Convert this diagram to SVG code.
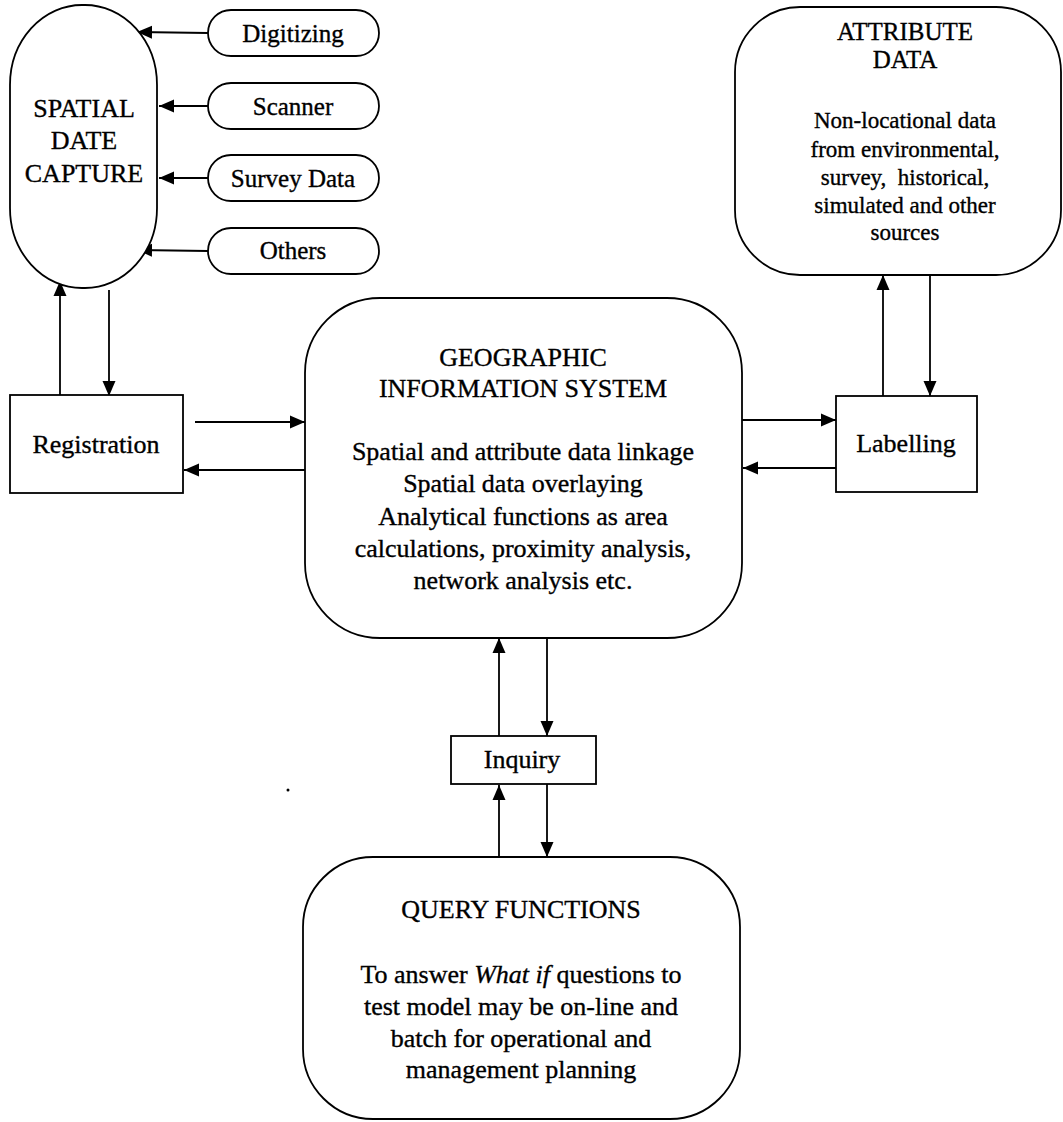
<svg xmlns="http://www.w3.org/2000/svg" width="1063" height="1122" viewBox="0 0 1063 1122">
  <style>
    .box { fill: #fff; stroke: #000; stroke-width: 1.8; }
    .wire { fill: none; stroke: #000; stroke-width: 1.8; marker-end: url(#head); }
    text { font-family: "Liberation Serif", "Times New Roman", serif; fill: #000; stroke: #000; stroke-width: 0.35; text-anchor: middle; }
    .t26 { font-size: 26px; }
    .t25 { font-size: 25px; }
    .t23 { font-size: 23px; }
  </style>
  <defs>
    <marker id="head" markerUnits="userSpaceOnUse" markerWidth="16" markerHeight="14" refX="15" refY="7" orient="auto">
      <path d="M0,0.5 L15,7 L0,13.5 z" fill="#000"/>
    </marker>
  </defs>
  <rect width="1063" height="1122" fill="#fff"/>

  <!-- connectors -->
  <g id="connectors">
    <line class="wire" x1="208" y1="33" x2="137" y2="32"/>
    <line class="wire" x1="208" y1="106" x2="159" y2="106"/>
    <line class="wire" x1="208" y1="178" x2="159" y2="178"/>
    <line class="wire" x1="208" y1="251" x2="137" y2="250"/>
    <line class="wire" x1="60" y1="395" x2="60" y2="281"/>
    <line class="wire" x1="109" y1="290" x2="109" y2="396"/>
    <line class="wire" x1="195" y1="422" x2="305" y2="422"/>
    <line class="wire" x1="305" y1="470" x2="184" y2="470"/>
    <line class="wire" x1="742" y1="420" x2="836" y2="420"/>
    <line class="wire" x1="836" y1="468" x2="743" y2="468"/>
    <line class="wire" x1="883" y1="396" x2="883" y2="275"/>
    <line class="wire" x1="930" y1="275" x2="930" y2="396"/>
    <line class="wire" x1="499" y1="736" x2="499" y2="638"/>
    <line class="wire" x1="547" y1="638" x2="547" y2="736"/>
    <line class="wire" x1="499" y1="857" x2="499" y2="785"/>
    <line class="wire" x1="547" y1="784" x2="547" y2="857"/>
  </g>

  <g id="spatial-capture">
    <rect class="box" x="10" y="5" width="147" height="283" rx="72" ry="80"/>
    <text class="t26" x="84" y="117">SPATIAL</text>
    <text class="t26" x="84" y="149">DATE</text>
    <text class="t26" x="84" y="182">CAPTURE</text>
  </g>

  <g id="digitizing">
    <rect class="box" x="208" y="10" width="171" height="46" rx="23"/>
    <text class="t25" x="293" y="42">Digitizing</text>
  </g>
  <g id="scanner">
    <rect class="box" x="208" y="83" width="171" height="46" rx="23"/>
    <text class="t25" x="293" y="115">Scanner</text>
  </g>
  <g id="survey-data">
    <rect class="box" x="208" y="155" width="171" height="46" rx="23"/>
    <text class="t25" x="293" y="187">Survey Data</text>
  </g>
  <g id="others">
    <rect class="box" x="208" y="228" width="171" height="46" rx="23"/>
    <text class="t25" x="293" y="259">Others</text>
  </g>

  <g id="attribute-data">
    <rect class="box" x="735" y="7" width="326" height="268" rx="65"/>
    <text class="t25" x="905" y="40">ATTRIBUTE</text>
    <text class="t25" x="905" y="68">DATA</text>
    <text class="t23" x="905" y="128">Non-locational data</text>
    <text class="t23" x="905" y="157">from environmental,</text>
    <text class="t23" x="905" y="185" xml:space="preserve">survey,  historical,</text>
    <text class="t23" x="905" y="213">simulated and other</text>
    <text class="t23" x="905" y="240">sources</text>
  </g>

  <g id="registration">
    <rect class="box" x="10" y="395" width="173" height="98"/>
    <text class="t26" x="96" y="453">Registration</text>
  </g>

  <g id="labelling">
    <rect class="box" x="836" y="396" width="141" height="96"/>
    <text class="t26" x="906" y="452">Labelling</text>
  </g>

  <g id="gis">
    <rect class="box" x="305" y="298" width="437" height="340" rx="75"/>
    <text class="t26" x="523" y="366">GEOGRAPHIC</text>
    <text class="t26" x="523" y="397">INFORMATION SYSTEM</text>
    <text class="t26" x="523" y="460">Spatial and attribute data linkage</text>
    <text class="t26" x="523" y="492">Spatial data overlaying</text>
    <text class="t26" x="523" y="525">Analytical functions as area</text>
    <text class="t26" x="523" y="557">calculations, proximity analysis,</text>
    <text class="t26" x="523" y="589">network analysis etc.</text>
  </g>

  <g id="inquiry">
    <rect class="box" x="451" y="736" width="145" height="48"/>
    <text class="t26" x="522" y="768">Inquiry</text>
  </g>

  <g id="query-functions">
    <rect class="box" x="303" y="857" width="437" height="262" rx="70"/>
    <text class="t26" x="521" y="918">QUERY FUNCTIONS</text>
    <text class="t26" x="521" y="983">To answer <tspan font-style="italic">What if</tspan> questions to</text>
    <text class="t26" x="521" y="1015">test model may be on-line and</text>
    <text class="t26" x="521" y="1047">batch for operational and</text>
    <text class="t26" x="521" y="1078">management planning</text>
  </g>

  <!-- stray mark -->
  <circle cx="288" cy="790" r="1.5" fill="#000"/>
</svg>
